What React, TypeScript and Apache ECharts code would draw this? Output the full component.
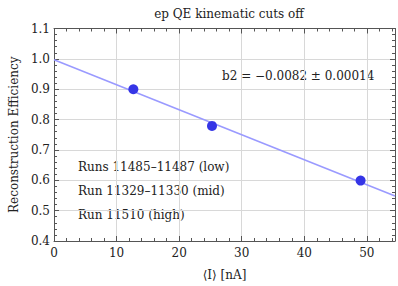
import React, { useEffect, useRef } from "react";
import * as echarts from "echarts";

const title = "ep QE kinematic cuts off";
const xName = "⟨I⟩ [nA]";
const yName = "Reconstruction Efficiency";
const pointX = [12.68, 25.25, 49.0];
const pointY = [0.9, 0.779, 0.599];
const fitX = [0, 54.5];
const fitY = [0.997, 0.548];
const fitLabel = "b2 = −0.0082 ± 0.00014";
const runLabels = ["Runs 11485–11487 (low)", "Run 11329–11330 (mid)", "Run 11510 (high)"];

const FONT = "DejaVu Serif";

export default function App() {
  const ref = useRef<HTMLDivElement>(null);
  useEffect(() => {
    const chart = echarts.init(ref.current!, null, { renderer: "svg" });
    const axisCommon = {
      axisLine: { show: true, onZero: false, lineStyle: { color: "#555", width: 1 } },
      axisTick: { show: true, inside: true, length: 5, lineStyle: { color: "#555" } },
      minorTick: { show: true, splitNumber: 5, length: 3, lineStyle: { color: "#555" } },
    };
    chart.setOption({
      animation: false,
      title: {
        text: title,
        left: 224,
        textAlign: "center",
        top: 3,
        textStyle: { fontFamily: FONT, fontSize: 12, fontWeight: "normal", color: "#222" },
      },
      grid: { left: 52, right: 2, top: 28.5, bottom: 44.5 },
      xAxis: [
        {
          type: "value",
          min: 0,
          max: 54.5,
          interval: 10,
          ...axisCommon,
          splitLine: { show: true, lineStyle: { color: "#d8d8d8" } },
          axisLabel: {
            fontFamily: FONT,
            fontSize: 12,
            color: "#222",
            margin: 6,
            formatter: (v: number) => (v % 10 === 0 ? String(v) : ""),
          },
          name: xName,
          nameLocation: "middle",
          nameGap: 28,
          nameTextStyle: { fontFamily: FONT, fontSize: 12, color: "#222" },
        },
        {
          type: "value",
          position: "top",
          min: 0,
          max: 54.5,
          interval: 10,
          ...axisCommon,
          splitLine: { show: false },
          axisLabel: { show: false },
        },
      ],
      yAxis: [
        {
          type: "value",
          min: 0.4,
          max: 1.1,
          interval: 0.1,
          ...axisCommon,
          splitLine: { show: true, lineStyle: { color: "#d8d8d8" } },
          axisLabel: {
            fontFamily: FONT,
            fontSize: 12,
            color: "#222",
            margin: 4,
            formatter: (v: number) => v.toFixed(1),
          },
          name: yName,
          nameLocation: "middle",
          nameGap: 34,
          nameTextStyle: { fontFamily: FONT, fontSize: 12, color: "#222" },
        },
        {
          type: "value",
          position: "right",
          min: 0.4,
          max: 1.1,
          interval: 0.1,
          ...axisCommon,
          splitLine: { show: false },
          axisLabel: { show: false },
        },
      ],
      series: [
        {
          type: "line",
          data: fitX.map((x, i) => [x, fitY[i]]),
          symbol: "none",
          lineStyle: { color: "#9a9aff", width: 1.6 },
          z: 2,
        },
        {
          type: "scatter",
          data: pointX.map((x, i) => [x, pointY[i]]),
          symbolSize: 10,
          itemStyle: { color: "#3535e6", opacity: 1 },
          z: 3,
        },
      ],
      graphic: [
        {
          type: "text",
          x: 222,
          y: 76,
          style: {
            text: fitLabel,
            fontFamily: FONT,
            fontSize: 12,
            fill: "#222",
            textVerticalAlign: "middle",
          },
        },
        ...runLabels.map((t, i) => ({
          type: "text",
          x: 78,
          y: 167 + i * 24,
          style: {
            text: t,
            fontFamily: FONT,
            fontSize: 12,
            fill: "#222",
            textVerticalAlign: "middle",
          },
        })),
      ],
    });
    return () => chart.dispose();
  }, []);
  return (
    <div
      ref={ref}
      style={{ position: "absolute", left: 0, top: 0, width: 398, height: 286, background: "#fff" }}
    />
  );
}
